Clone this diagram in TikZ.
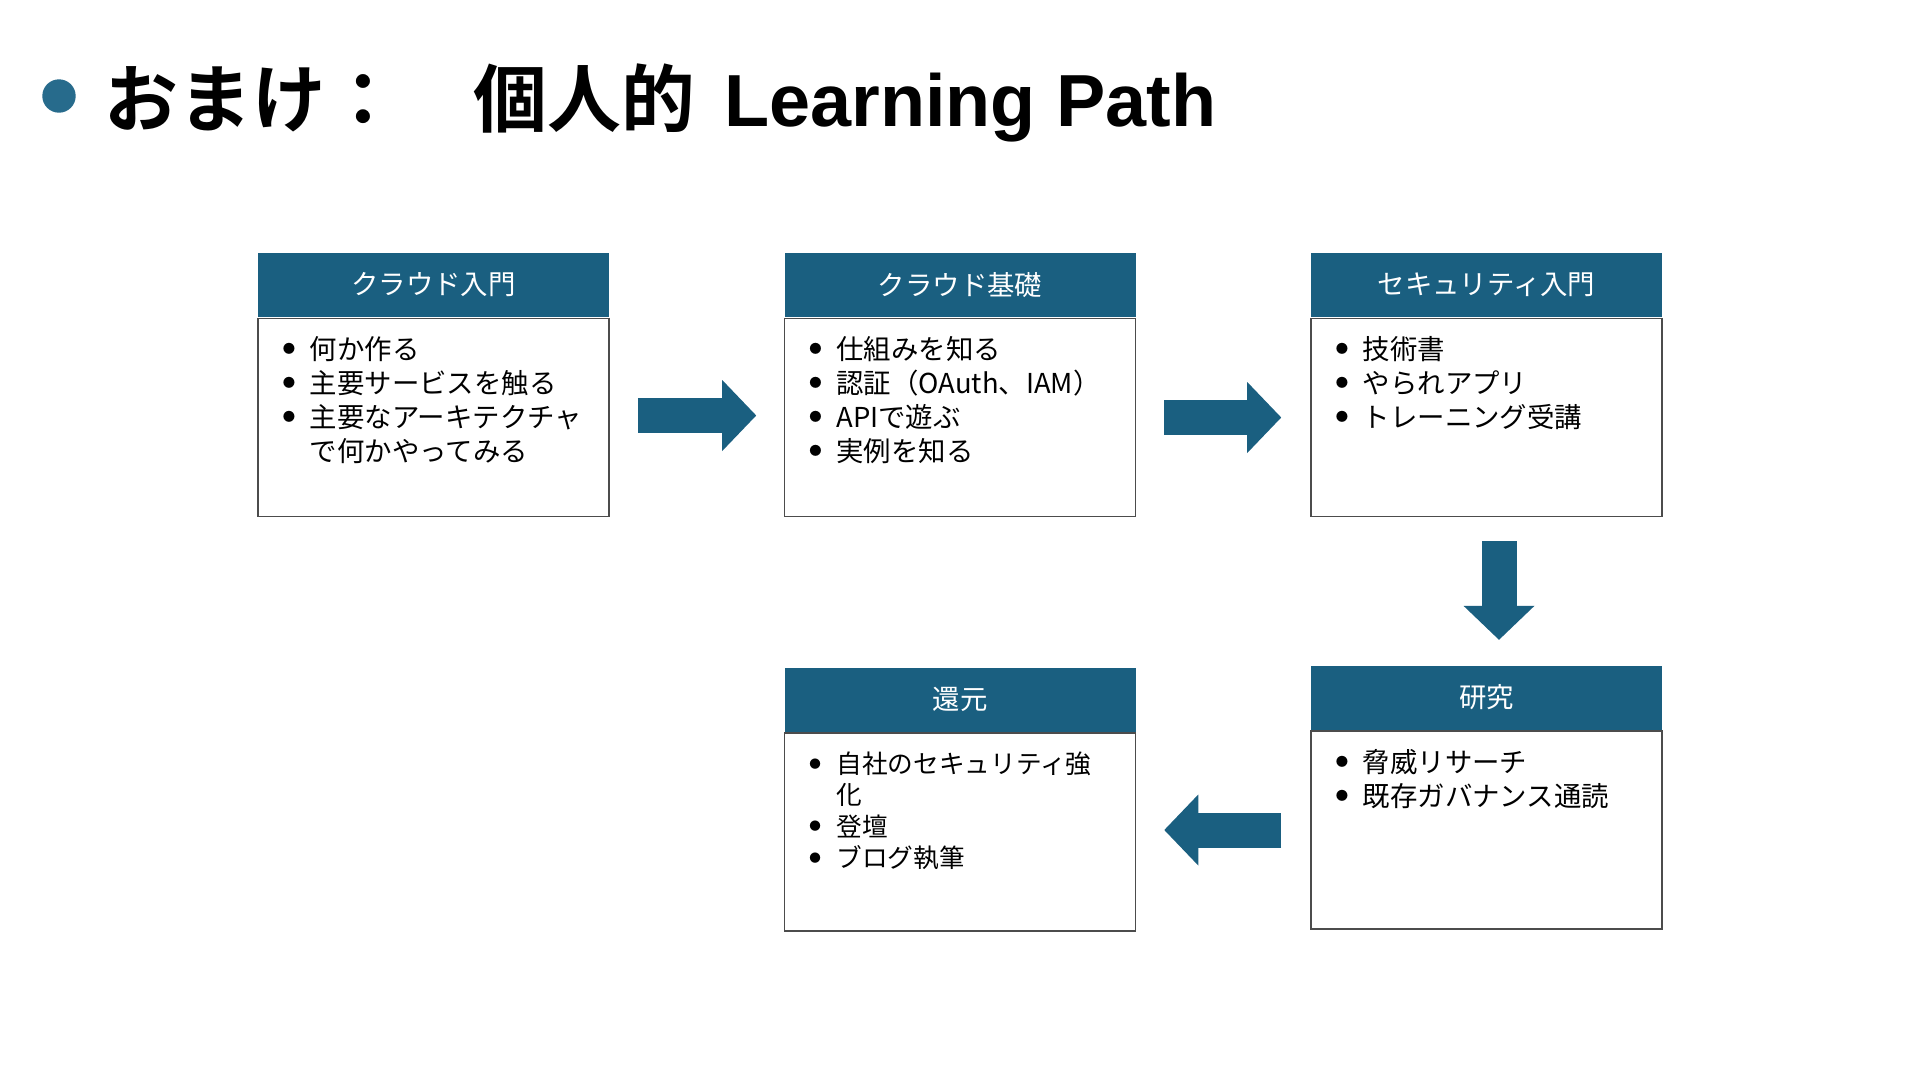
\documentclass[tikz,border=0pt]{standalone}
\usepackage{fontspec}
\setmainfont{Noto Sans CJK JP}[BoldFont={Noto Sans CJK JP Bold}]
\newfontfamily\latinfont{Liberation Sans}
\usetikzlibrary{
  arrows.meta,
  positioning,
  calc
}
\definecolor{pathblue}{RGB}{26,95,128}
\definecolor{dotblue}{RGB}{39,107,140}
\tikzset{
  headbox/.style={fill=pathblue,text=white,minimum width=3.51cm,minimum height=0.64cm,
    inner sep=0pt,font=\fontsize{7.8pt}{9pt}\selectfont},
  bodybox/.style={draw=black!70,line width=0.45pt,minimum width=3.51cm,minimum height=1.98cm,inner sep=0pt},
  items/.style={anchor=north west,align=left,inner sep=0pt,font=\fontsize{7.8pt}{9.7pt}\selectfont},
  blockarrow/.style={pathblue,line width=0.35cm,
    -{Triangle[length=0.34cm,width=0.71cm,line width=0pt]}}
}
\def\bl{\makebox[0.27cm][l]{\raisebox{0.21em}{\scalebox{0.45}{●}}}}

\begin{document}
\begin{tikzpicture}[x=0.1mm,y=-0.1mm]
\fill[white] (0,0) rectangle (1920,1080);
\useasboundingbox (0,0) rectangle (1920,1080);
% title
\fill[dotblue] (59,96) circle (0.167cm);
\node[anchor=base west,inner sep=0pt,font=\bfseries\fontsize{21pt}{25pt}\selectfont] (title)
  at (104,126) {おまけ：　個人的\hspace{0.29cm}{\latinfont Learning Path}};
% header and body of each step
\foreach \n/\x/\y/\t in {intro/433.5/285/クラウド入門,basic/960/285/クラウド基礎,
  sec/1486.5/285/セキュリティ入門,research/1486.5/697.5/研究,giveback/960/699.5/還元}{
  \node[headbox] (\n) at (\x,\y) {\t};
  \node[bodybox,below=0pt of \n] (\n-b) {};
}
% list items
\node[items] (intro-t) at ($(intro-b.north west)+(25,18)$)
  {\bl 何か作る\\ \bl 主要サービスを触る\\ \bl 主要なアーキテクチャ\\ \hspace*{0.27cm}で何かやってみる};
\node[items] (basic-t) at ($(basic-b.north west)+(25,18)$)
  {\bl 仕組みを知る\\ \bl 認証（OAuth、IAM）\\ \bl APIで遊ぶ\\ \bl 実例を知る};
\node[items] (sec-t) at ($(sec-b.north west)+(25,18)$)
  {\bl 技術書\\ \bl やられアプリ\\ \bl トレーニング受講};
\node[items] (research-t) at ($(research-b.north west)+(25,18)$)
  {\bl 脅威リサーチ\\ \bl 既存ガバナンス通読};
\node[items,font=\fontsize{7.3pt}{8.9pt}\selectfont] (giveback-t) at ($(giveback-b.north west)+(25,19)$)
  {\bl 自社のセキュリティ強\\ \hspace*{0.27cm}化\\ \bl 登壇\\ \bl ブログ執筆};
% arrows between the steps
\draw[blockarrow] ($(intro-b.east)+(28,-2)$) -- ($(basic-b.west)+(-27.5,-2)$);
\draw[blockarrow] ($(basic-b.east)+(28,0)$) -- ($(sec-b.west)+(-29,0)$);
\draw[blockarrow] ($(sec-b.south)+(12.5,24)$) -- ($(research.north)+(12.5,-25)$);
\draw[blockarrow] ($(research-b.west)+(-29,0)$) -- ($(giveback-b.east |- research-b.west)+(28,0)$);
\end{tikzpicture}
\end{document}
